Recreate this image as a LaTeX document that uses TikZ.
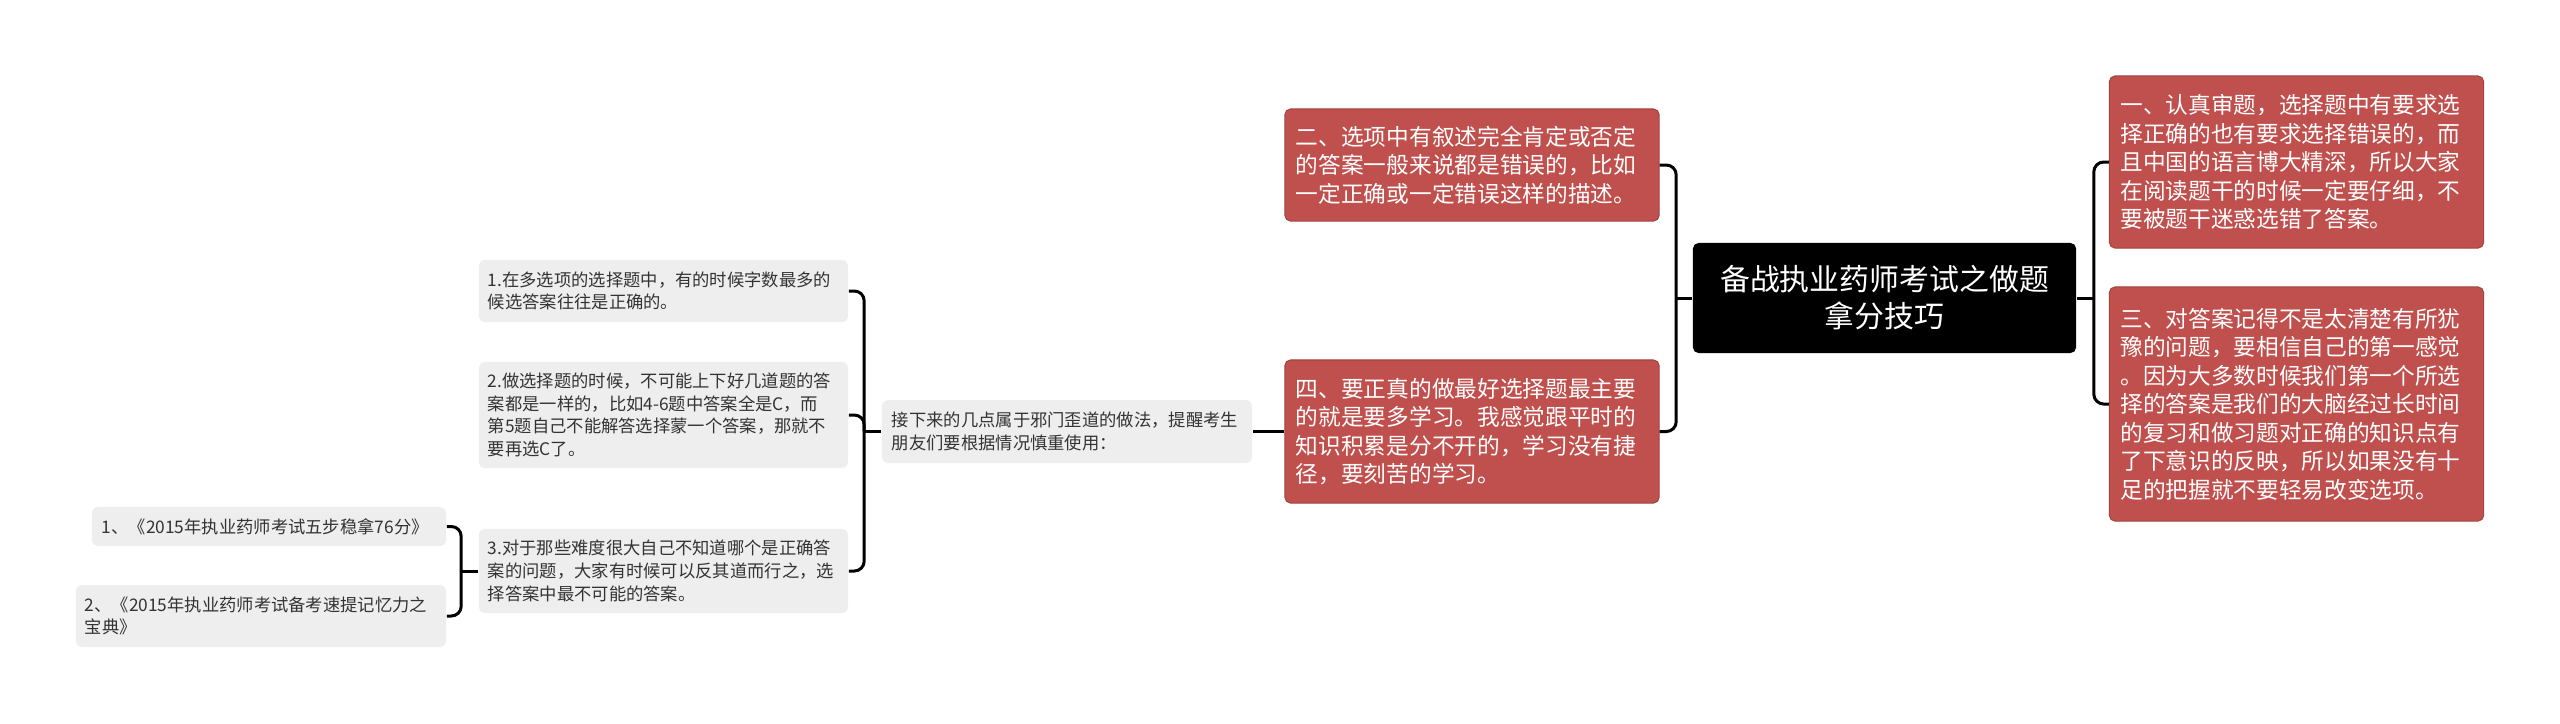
\documentclass[tikz,border=0pt]{standalone}
\usepackage{fontspec}
\setmainfont{Noto Sans CJK SC}
\usetikzlibrary{calc}
\definecolor{topicred}{RGB}{192,80,77}
\definecolor{notegray}{RGB}{238,238,238}
\definecolor{notetext}{RGB}{51,51,51}

\begin{document}
\begin{tikzpicture}[x=0.01cm,y=-0.01cm,
      rootbox/.style={rectangle,fill=black,text=white,rounded corners=1.6pt,align=center,
         text width=3.6cm,minimum width=3.83cm,minimum height=1.1cm,inner sep=0pt,
         font=\fontsize{8.5pt}{10.5pt}\selectfont},
      redbox/.style={rectangle,fill=topicred,draw=topicred!85!black,line width=0.3pt,
         text=white,rounded corners=1.6pt,align=left,inner xsep=0.11cm,inner ysep=0pt,
         text width=3.52cm,font=\fontsize{6.45pt}{8.1pt}\selectfont},
      graybox/.style={rectangle,fill=notegray,text=notetext,rounded corners=1.6pt,
         align=left,inner xsep=0.09cm,inner ysep=0pt,text width=3.51cm,
         font=\fontsize{4.92pt}{6.45pt}\selectfont},
      link/.style={draw=black,line width=0.85pt,rounded corners=2.8pt}]
   \useasboundingbox (0,0) rectangle (2560,723);
   %
   \node (root) at (1884.5,298) [rootbox]{备战执业药师考试之做题\\拿分技巧};
   %
   \node (one) at (2296.5,162) [redbox,minimum height=1.72cm]{一、认真审题，选择题中有要求选\\择正确的也有要求选择错误的，而\\且中国的语言博大精深，所以大家\\在阅读题干的时候一定要仔细，不\\要被题干迷惑选错了答案。};
   \node (three) at (2296.5,404) [redbox,minimum height=2.34cm]{三、对答案记得不是太清楚有所犹\\豫的问题，要相信自己的第一感觉\\。因为大多数时候我们第一个所选\\择的答案是我们的大脑经过长时间\\的复习和做习题对正确的知识点有\\了下意识的反映，所以如果没有十\\足的把握就不要轻易改变选项。};
   \coordinate (rtrunk) at ($(root.east)+(17,0)$);
   \draw[link] (root.east) -- (rtrunk);
   \draw[link] (rtrunk) |- (one.west);
   \draw[link] (rtrunk) |- (three.west);
   %
   \node (two) at (1472,165) [redbox,minimum height=1.12cm]{二、选项中有叙述完全肯定或否定\\的答案一般来说都是错误的，比如\\一定正确或一定错误这样的描述。};
   \node (four) at (1472,431.5) [redbox,minimum height=1.43cm]{四、要正真的做最好选择题最主要\\的就是要多学习。我感觉跟平时的\\知识积累是分不开的，学习没有捷\\径，要刻苦的学习。};
   \coordinate (ltrunk) at ($(root.west)+(-16,0)$);
   \draw[link] (root.west) -- (ltrunk);
   \draw[link] (ltrunk) |- (two.east);
   \draw[link] (ltrunk) |- (four.east);
   %%
   \node (next) at (1067,431.5) [graybox,inner xsep=0.1cm,text width=3.5cm,minimum height=0.63cm]{接下来的几点属于邪门歪道的做法，提醒考生\\朋友们要根据情况慎重使用：};
   \draw[link] (four.west) -- (next.east);
   %
   \node (tipa) at (663.5,291) [graybox,minimum height=0.62cm]{1.在多选项的选择题中，有的时候字数最多的\\候选答案往往是正确的。};
   \node (tipb) at (663.5,415) [graybox,minimum height=1.06cm]{2.做选择题的时候，不可能上下好几道题的答\\案都是一样的，比如4-6题中答案全是C，而\\第5题自己不能解答选择蒙一个答案，那就不\\要再选C了。};
   \node (tipc) at (663.5,571) [graybox,minimum height=0.84cm]{3.对于那些难度很大自己不知道哪个是正确答\\案的问题，大家有时候可以反其道而行之，选\\择答案中最不可能的答案。};
   \coordinate (ntrunk) at ($(next.west)+(-17,0)$);
   \draw[link] (next.west) -- (ntrunk);
   \draw[link] (ntrunk) |- (tipa.east);
   \draw[link] (ntrunk) |- (tipb.east);
   \draw[link] (ntrunk) |- (tipc.east);
   %
   \node (booka) at (269,526.5) [graybox,inner xsep=0.1cm,text width=3.34cm,minimum height=0.39cm]{1、《2015年执业药师考试五步稳拿76分》};
   \node (bookb) at (261,616) [graybox,text width=3.52cm,minimum height=0.62cm]{2、《2015年执业药师考试备考速提记忆力之\\宝典》};
   \coordinate (ctrunk) at ($(tipc.west)+(-17,0)$);
   \draw[link] (tipc.west) -- (ctrunk);
   \draw[link] (ctrunk) |- (booka.east);
   \draw[link] (ctrunk) |- (bookb.east);
\end{tikzpicture}
\end{document}
